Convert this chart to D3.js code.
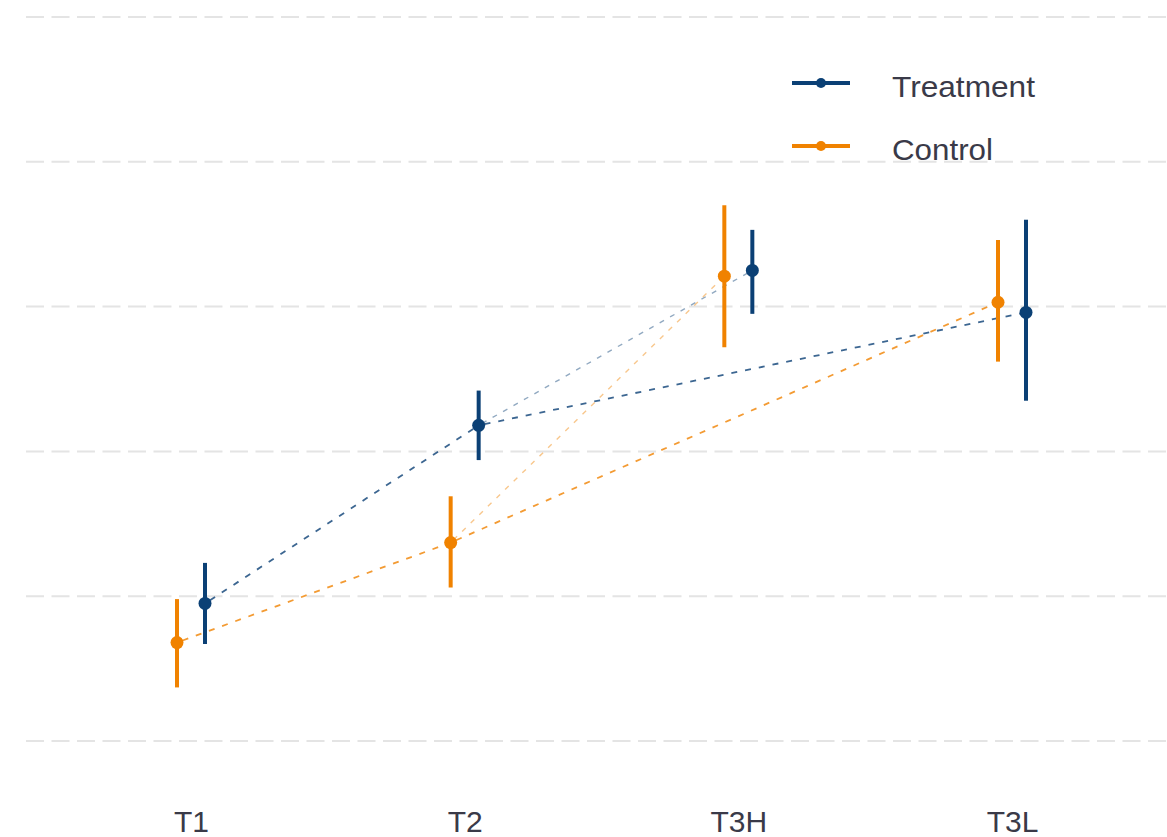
<!DOCTYPE html>
<html>
<head>
<meta charset="utf-8">
<script src="https://cdn.jsdelivr.net/npm/d3@7"></script>
<style>
  body { margin: 0; background: #fff; }
  text { font-family: "Liberation Sans", Arial, sans-serif; }
</style>
</head>
<body>
<div id="chart"></div>
<script>
// data (y units: one per gridline)
var timepoints = ["T1", "T2", "T3H", "T3L"];
var groups = ["Treatment", "Control"];
var treatMean = [0.95, 2.18, 3.25, 2.96];
var treatLow  = [0.67, 1.94, 2.95, 2.35];
var treatHigh = [1.23, 2.42, 3.53, 3.60];
var ctrlMean  = [0.68, 1.37, 3.21, 3.03];
var ctrlLow   = [0.37, 1.06, 2.72, 2.62];
var ctrlHigh  = [0.98, 1.69, 3.70, 3.46];
var gridTicks = [0, 1, 2, 3, 4, 5];
var links = [["T1", "T2"], ["T2", "T3L"], ["T2", "T3H"]];

var colors = { Treatment: "#0b4075", Control: "#f08200" };
var dodge = { Treatment: 14, Control: -14 };

var W = 1167, H = 837;

var svg = d3.select("#chart")
  .append("svg")
  .attr("width", W)
  .attr("height", H);

var x = d3.scalePoint()
  .domain(timepoints)
  .range([191, 1012]);

var y = d3.scaleLinear()
  .domain([0, 5])
  .range([741, 17]);

// build rows per group
function rows(g, mean, lo, hi) {
  return timepoints.map(function (t, i) {
    return { group: g, time: t, mean: mean[i], lo: lo[i], hi: hi[i] };
  });
}
var series = [
  rows("Treatment", treatMean, treatLow, treatHigh),
  rows("Control", ctrlMean, ctrlLow, ctrlHigh)
];

function px(d) { return x(d.time) + dodge[d.group]; }

// gridlines
svg.append("g")
  .selectAll("line")
  .data(gridTicks)
  .enter().append("line")
  .attr("x1", 26)
  .attr("x2", W)
  .attr("y1", function (d) { return y(d); })
  .attr("y2", function (d) { return y(d); })
  .attr("stroke", "#e4e4e4")
  .attr("stroke-width", 2)
  .attr("stroke-dasharray", "18,7.5");

// dashed connecting lines
series.forEach(function (s) {
  var byTime = {};
  s.forEach(function (d) { byTime[d.time] = d; });
  links.forEach(function (l) {
    var a = byTime[l[0]], b = byTime[l[1]];
    var faded = l[1] === "T3H";
    svg.append("line")
      .attr("x1", px(a)).attr("y1", y(a.mean))
      .attr("x2", px(b)).attr("y2", y(b.mean))
      .attr("stroke", colors[a.group])
      .attr("stroke-width", faded ? 1.4 : 1.8)
      .attr("stroke-opacity", faded ? 0.45 : 0.8)
      .attr("stroke-dasharray", faded ? "5,7" : "6,8")
      .attr("stroke-dashoffset", 8);
  });
});

// error bars + points (control drawn first)
[series[1], series[0]].forEach(function (s) {
  var g = svg.append("g");
  g.selectAll("line")
    .data(s)
    .enter().append("line")
    .attr("x1", px).attr("x2", px)
    .attr("y1", function (d) { return y(d.lo); })
    .attr("y2", function (d) { return y(d.hi); })
    .attr("stroke", function (d) { return colors[d.group]; })
    .attr("stroke-width", 4);
  g.selectAll("circle")
    .data(s)
    .enter().append("circle")
    .attr("cx", px)
    .attr("cy", function (d) { return y(d.mean); })
    .attr("r", 6.5)
    .attr("fill", function (d) { return colors[d.group]; });
});

// x axis labels
svg.append("g")
  .attr("transform", "translate(0,832)")
  .call(d3.axisBottom(x).tickSize(0).tickPadding(0))
  .call(function (g) { g.select(".domain").remove(); })
  .selectAll("text")
  .attr("dy", 0)
  .attr("font-size", 30)
  .attr("fill", "#3a3a48")
  .style("font-family", "'Liberation Sans', Arial, sans-serif");

// legend
var legend = svg.append("g");
groups.forEach(function (gname, i) {
  var ly = 83 + i * 63;
  legend.append("line")
    .attr("x1", 792).attr("x2", 850)
    .attr("y1", ly).attr("y2", ly)
    .attr("stroke", colors[gname])
    .attr("stroke-width", 4);
  legend.append("circle")
    .attr("cx", 821).attr("cy", ly)
    .attr("r", 5)
    .attr("fill", colors[gname]);
  legend.append("text")
    .attr("x", 892)
    .attr("y", ly + 14)
    .attr("font-size", 30)
    .attr("textLength", 143)
    .attr("lengthAdjust", "spacingAndGlyphs")
    .text(gname)
    .attr("textLength", gname === "Treatment" ? 143 : 101)
    .attr("fill", "#3a3a48");
});
</script>
</body>
</html>
